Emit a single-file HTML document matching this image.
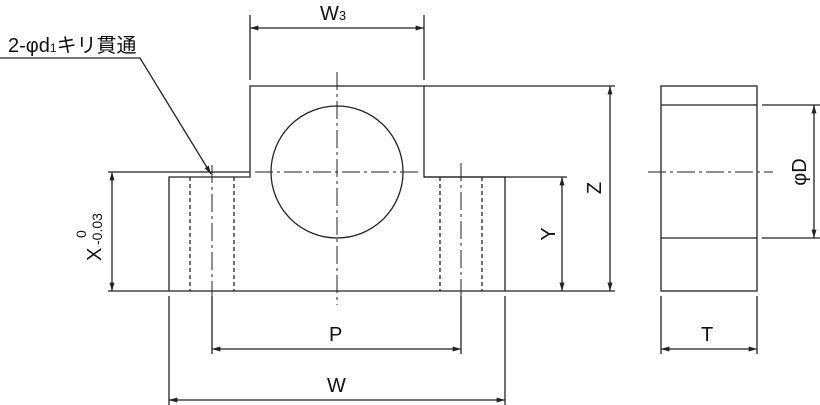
<!DOCTYPE html>
<html><head><meta charset="utf-8"><style>
html,body{margin:0;padding:0;background:#fff;width:820px;height:405px;overflow:hidden}
text{font-family:"Liberation Sans","Noto Sans CJK JP",sans-serif;fill:#111}
</style></head><body>
<svg width="820" height="405" viewBox="0 0 820 405" xmlns="http://www.w3.org/2000/svg">
<defs>
<marker id="a" viewBox="0 0 10 6" refX="10" refY="3" markerWidth="9" markerHeight="5" orient="auto-start-reverse" markerUnits="userSpaceOnUse"><path d="M0,0L10,3L0,6z" fill="#222"/></marker>
</defs>
<g stroke="#222" stroke-width="1.3" fill="none">
<path d="M169,291V177H250V86H424V177H505V291"/>
<line x1="108" y1="172" x2="250" y2="172"/>
<line x1="108" y1="291" x2="615" y2="291"/>
<line x1="424" y1="86" x2="615" y2="86"/>
<line x1="424" y1="177" x2="567" y2="177"/>
<circle cx="337" cy="172" r="66"/>
<g stroke-dasharray="4,3"><line x1="190" y1="177" x2="190" y2="291"/><line x1="234" y1="177" x2="234" y2="291"/><line x1="440" y1="177" x2="440" y2="291"/><line x1="482" y1="177" x2="482" y2="291"/></g>
<g stroke-dasharray="18,4,3,4" stroke-width="1"><line x1="337" y1="72" x2="337" y2="305"/><line x1="255" y1="172" x2="420" y2="172"/><line x1="648" y1="172" x2="773" y2="172"/><line x1="212" y1="165" x2="212" y2="296"/><line x1="461" y1="163" x2="461" y2="296"/></g>
<line x1="212" y1="296" x2="212" y2="354"/><line x1="461" y1="296" x2="461" y2="354"/>
<line x1="169" y1="296" x2="169" y2="405"/><line x1="505" y1="296" x2="505" y2="405"/>
<line x1="250" y1="15" x2="250" y2="80"/><line x1="424" y1="15" x2="424" y2="80"/>
<line x1="661" y1="296" x2="661" y2="354"/><line x1="757" y1="296" x2="757" y2="354"/>
<line x1="762" y1="105" x2="820" y2="105"/><line x1="762" y1="238" x2="820" y2="238"/>
<g marker-start="url(#a)" marker-end="url(#a)">
<line x1="250" y1="28" x2="424" y2="28"/>
<line x1="212" y1="349" x2="461" y2="349"/>
<line x1="169" y1="400" x2="505" y2="400"/>
<line x1="661" y1="349" x2="757" y2="349"/>
<line x1="112" y1="172" x2="112" y2="291"/>
<line x1="562" y1="177" x2="562" y2="291"/>
<line x1="610" y1="86" x2="610" y2="291"/>
<line x1="814" y1="105" x2="814" y2="238"/>
</g>
<rect x="661" y="86" width="96" height="205"/>
<line x1="661" y1="105" x2="757" y2="105"/><line x1="661" y1="238" x2="757" y2="238"/>
<polyline points="0,58 140,58 211,174" marker-end="url(#a)"/>
</g>
<text x="320" y="20" font-size="20">W<tspan font-size="13">3</tspan></text>
<text x="8" y="52" font-size="20">2-φd<tspan font-size="12">1</tspan>キリ貫通</text>
<text x="329" y="341" font-size="20">P</text>
<text x="327" y="392" font-size="20">W</text>
<text x="701" y="341" font-size="20">T</text>
<text transform="translate(555,234) rotate(-90)" text-anchor="middle" font-size="20">Y</text>
<text transform="translate(601,188) rotate(-90)" text-anchor="middle" font-size="20">Z</text>
<text transform="translate(806,172) rotate(-90)" text-anchor="middle" font-size="20">φD</text>
<text transform="translate(101,261) rotate(-90)" font-size="20">X</text>
<text transform="translate(86,238) rotate(-90)" font-size="14">0</text>
<text transform="translate(102,245) rotate(-90)" font-size="14">-0.03</text>
</svg>
</body></html>
